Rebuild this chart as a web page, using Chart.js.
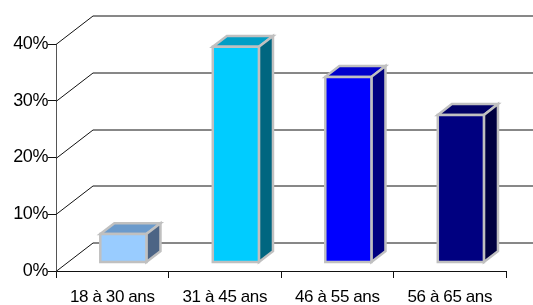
<!DOCTYPE html>
<html>
<head>
<meta charset="utf-8">
<script src="https://cdn.jsdelivr.net/npm/chart.js@4.4.1/dist/chart.umd.min.js"></script>
<style>
  html, body { margin: 0; padding: 0; background: #fff; }
  #wrap { width: 533px; height: 305px; }
</style>
</head>
<body>
<div id="wrap"><canvas id="ageChart"></canvas></div>
<script>
// Données
const categories = ['18 à 30 ans', '31 à 45 ans', '46 à 55 ans', '56 à 65 ans'];
const shares = [5, 38, 32.7, 26];
const yTickValues = [0, 10, 20, 30, 40];

// Couleurs des barres (face avant, dessus, côté)
const frontColors = ['#99CCFF', '#00CCFF', '#0000FF', '#000080'];
const topColors = ['#6B9ACB', '#009EC6', '#0000CC', '#000066'];
const sideColors = ['#4C6485', '#006680', '#000080', '#000040'];

// Profondeur de la vue 3D
const depthX = 37;
const depthY = -28.5;
const barFront = 0.3;
const barBack = 0.68;
const lineColor = '#111';

const wall3d = {
    id: 'wall3d',
    beforeDraw(chart) {
        // texte un peu resserré comme dans l'original
        chart.ctx.letterSpacing = '-0.4px';
    },
    beforeDatasetsDraw(chart) {
        const ctx = chart.ctx;
        const yScale = chart.scales.y;
        const left = chart.chartArea.left;
        ctx.save();
        ctx.strokeStyle = lineColor;
        ctx.lineWidth = 1;
        yTickValues.forEach(v => {
            const y = Math.round(yScale.getPixelForValue(v)) + 0.5;
            ctx.beginPath();
            ctx.moveTo(left, y);
            ctx.lineTo(left + depthX, y + depthY);
            ctx.lineTo(chart.width + 5, y + depthY);
            ctx.stroke();
        });
        ctx.restore();
    },
    afterDatasetsDraw(chart) {
        const ctx = chart.ctx;
        const meta = chart.getDatasetMeta(0);
        const fx = depthX * barFront, fy = depthY * barFront;
        const bx = depthX * (barBack - barFront), by = depthY * (barBack - barFront);
        ctx.save();
        ctx.strokeStyle = '#C0C0C0';
        ctx.lineWidth = 2.5;
        ctx.lineJoin = 'miter';
        meta.data.forEach((bar, i) => {
            const p = bar.getProps(['x', 'y', 'base', 'width'], true);
            const x0 = p.x - p.width / 2 + fx;
            const x1 = p.x + p.width / 2 + fx;
            const top = p.y + fy;
            const bottom = p.base + fy;

            // face du dessus
            ctx.beginPath();
            ctx.moveTo(x0, top);
            ctx.lineTo(x0 + bx, top + by);
            ctx.lineTo(x1 + bx, top + by);
            ctx.lineTo(x1, top);
            ctx.closePath();
            ctx.fillStyle = topColors[i];
            ctx.fill();
            ctx.stroke();

            // face de côté
            ctx.beginPath();
            ctx.moveTo(x1, top);
            ctx.lineTo(x1 + bx, top + by);
            ctx.lineTo(x1 + bx, bottom + by);
            ctx.lineTo(x1, bottom);
            ctx.closePath();
            ctx.fillStyle = sideColors[i];
            ctx.fill();
            ctx.stroke();

            // face avant
            ctx.beginPath();
            ctx.rect(x0, top, x1 - x0, bottom - top);
            ctx.fillStyle = frontColors[i];
            ctx.fill();
            ctx.stroke();
        });
        ctx.restore();
    }
};

new Chart(document.getElementById('ageChart'), {
    type: 'bar',
    data: {
        labels: categories,
        datasets: [{
            data: shares,
            backgroundColor: 'rgba(0,0,0,0)',
            borderWidth: 0,
            barPercentage: 0.41,
            categoryPercentage: 1
        }]
    },
    options: {
        responsive: true,
        maintainAspectRatio: false,
        animation: false,
        layout: { padding: { left: 0, right: 27, top: 44, bottom: 0 } },
        plugins: {
            legend: { display: false },
            tooltip: { enabled: false }
        },
        scales: {
            x: {
                offset: true,
                grid: {
                    offset: true,
                    drawOnChartArea: false,
                    drawTicks: true,
                    tickLength: 7,
                    color: lineColor
                },
                border: { display: true, color: lineColor },
                ticks: {
                    color: '#000',
                    padding: 9,
                    maxRotation: 0,
                    font: { family: 'Liberation Sans, Arial, sans-serif', size: 17 }
                },
                afterFit(scale) { scale.height = 34; }
            },
            y: {
                min: 0,
                max: 40,
                afterBuildTicks(scale) {
                    scale.ticks = yTickValues.map(v => ({ value: v }));
                },
                grid: {
                    drawOnChartArea: false,
                    drawTicks: true,
                    tickLength: 8,
                    color: lineColor
                },
                border: { display: true, color: '#555' },
                ticks: {
                    color: '#000',
                    padding: 0,
                    callback: v => v + '%',
                    font: { family: 'Liberation Sans, Arial, sans-serif', size: 18 }
                },
                afterFit(scale) { scale.width = 56; }
            }
        }
    },
    plugins: [wall3d]
});
</script>
</body>
</html>
